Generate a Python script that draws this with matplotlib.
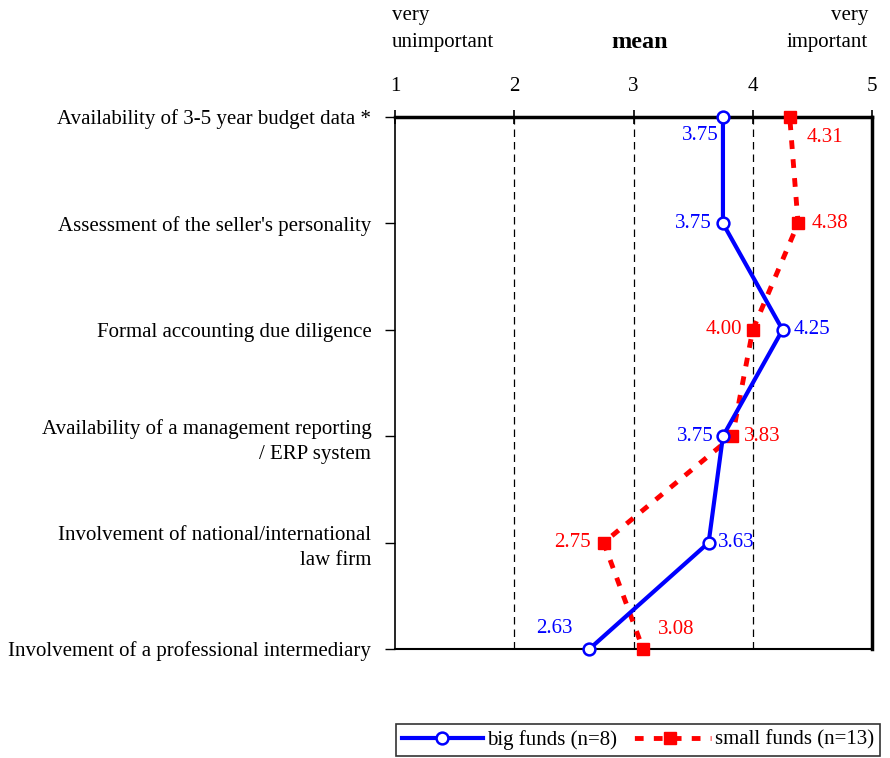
import matplotlib.pyplot as plt

plt.rcParams["font.family"] = ["Liberation Serif", "DejaVu Serif"]

categories = ["Availability of 3-5 year budget data *",
              "Assessment of the seller's personality",
              "Formal accounting due diligence",
              "Availability of a management reporting\n/ ERP system",
              "Involvement of national/international\nlaw firm",
              "Involvement of a professional intermediary"]
big_funds = [3.75, 3.75, 4.25, 3.75, 3.63, 2.63]
small_funds = [4.31, 4.38, 4.00, 3.83, 2.75, 3.08]
x_ticks = [1, 2, 3, 4, 5]

# label offsets in points (dx, dy, ha) for each point
big_offsets = [(-3, -13, "right"), (-8, 0, "right"), (8, 0, "left"),
               (-7, 0, "right"), (7, 0, "left"), (-12, 15, "right")]
small_offsets = [(12, -15, "left"), (10, 0, "left"), (-8, 0, "right"),
                 (8, 0, "left"), (-9, 0, "right"), (11, 14, "left")]

blue = "#0000ff"
red = "#ff0000"

fig = plt.figure(figsize=(8.9, 7.58), dpi=100)
ax = fig.add_axes([0.4438, 0.1438, 0.5360, 0.7018])

ys = list(range(len(categories)))
for x in [2, 3, 4]:
    ax.axvline(x, color="black", lw=0.9, ls=(0, (6, 4)), zorder=1)

ax.plot(big_funds, ys, color=blue, lw=3, marker="o", ms=8.5,
        mfc="white", mec=blue, mew=1.8, label="big funds (n=8)", zorder=4,
        clip_on=False)
ax.plot(small_funds, ys, color=red, lw=3.5, ls=(3, (1.8, 2.1)), marker="s",
        ms=9, mfc=red, mec=red, label="small funds (n=13)", zorder=3,
        clip_on=False)

for vals, offs, col in [(big_funds, big_offsets, blue),
                        (small_funds, small_offsets, red)]:
    for y, (v, (dx, dy, ha)) in enumerate(zip(vals, offs)):
        ax.annotate("%.2f" % v, (v, y), xytext=(dx, dy),
                    textcoords="offset points", ha=ha, va="center",
                    color=col, fontsize=15)

ax.set_xlim(1, 5)
ax.set_ylim(len(categories) - 1, 0)
ax.set_xticks(x_ticks)
ax.xaxis.tick_top()
ax.tick_params(axis="x", direction="inout", length=10, width=1.2,
               labelsize=15, pad=10)
ax.set_yticks(ys)
ax.set_yticklabels(categories, linespacing=1.4)
ax.tick_params(axis="y", direction="out", length=7, width=1,
               labelsize=15, pad=10)

ax.spines["top"].set_linewidth(2.5)
ax.spines["right"].set_linewidth(2.5)
ax.spines["left"].set_linewidth(1.2)
ax.spines["bottom"].set_linewidth(1.5)

fig.text(392 / 890, 1 - 6 / 758, "very\nunimportant", ha="left", va="top",
         fontsize=15, linespacing=1.55)
fig.text(868 / 890, 1 - 6 / 758, "very\nimportant", ha="right", va="top",
         fontsize=15, linespacing=1.55)
fig.text(640 / 890, 1 - 42 / 758, "mean", ha="center", va="center",
         fontsize=17.5, fontweight="bold")

leg = fig.legend(loc="center", bbox_to_anchor=(638 / 890, 1 - 740 / 758),
                 ncol=2, fontsize=15, frameon=True, fancybox=False,
                 edgecolor="black", handlelength=3.9, columnspacing=0.6,
                 handletextpad=0.2, borderpad=0.3)
leg.get_frame().set_linewidth(1.2)

fig.savefig("out.png", dpi=100)
